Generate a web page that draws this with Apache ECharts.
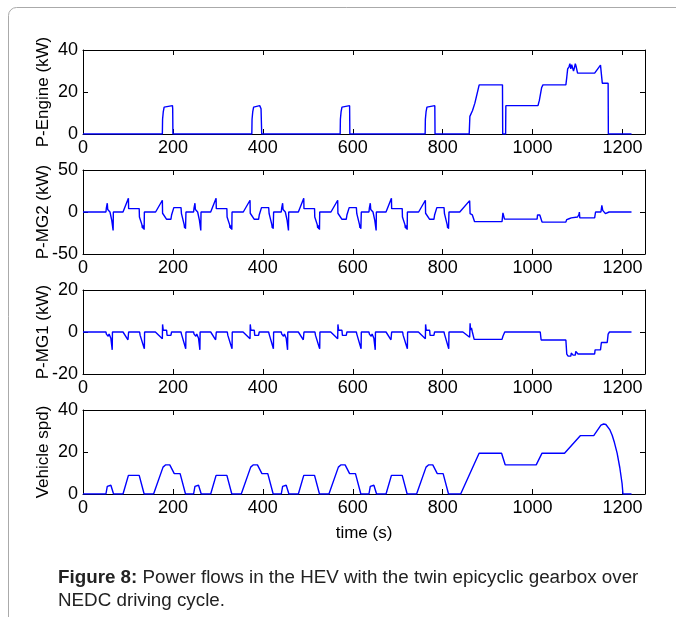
<!DOCTYPE html>
<html>
<head>
<meta charset="utf-8">
<script src="https://cdn.jsdelivr.net/npm/echarts@6/dist/echarts.min.js"></script>
<style>
html,body{margin:0;padding:0;background:#fff;}
#chart{width:676px;height:617px;}
</style>
</head>
<body>
<div id="chart"></div>
<script>
// ---- data: [time (s), value] ----
var xTicks = [0, 200, 400, 600, 800, 1000, 1200];
var panelNames = ['P-Engine (kW)', 'P-MG2 (kW)', 'P-MG1 (kW)', 'Vehicle spd)'];
var yRanges = [[0, 40, 20], [-50, 50, 50], [-20, 20, 20], [0, 40, 20]];

var engineData = [
  [0,0],[176.5,0],[177,7],[178.5,10.5],[180.5,12.8],[183.5,13.5],[199,13.5],[199.5,12],[200,0],
  [375.5,0],[376,7],[377.5,10.5],[379.5,12.8],[382.5,13.5],[393,13.5],[396,12],[397,12],[397.5,0],
  [572,0],[572.5,7],[574,10.5],[576,12.8],[579,13.5],[593,13.5],[593.5,0],
  [761,0],[761.5,7],[763,10.5],[765,12.8],[768,13.5],[782.5,13.5],[783,0],
  [859,0],[860.5,8.4],[866.4,11.2],[871.6,14.7],[881.2,23.4],[933,23.4],[933.5,0],[940,0],[940.5,13.5],
  [1012,13.5],[1015,16],[1020,22],[1023,23.4],[1074,23.4],[1076,27],[1078,31],[1081,32],[1083,33.5],
  [1085,31],[1087,33],[1089,33.5],[1091,30],[1093,31.5],[1095,33.5],[1097,32],[1100,29],[1138,29],
  [1151,32.8],[1152,32.8],[1155,24.2],[1168,24.2],[1168.5,0],[1220,0]
];

var mg2Data = [
  [0,0],
  [51,0],[52,5],[54,10.5],[55,3],[58,2],[60,0],[63,0],[64,-10],[67,-22],[67.5,0],
  [89,0],[101,16.5],[101.5,4],[125,4],[125.5,-6],[131,-15],[132,-19],[133,-16],[134,-20],[135,-17],[136,-21],[136.5,0],
  [161.5,0],[176.5,14],[177,-1.5],[186,-8.7],[195.5,-8.7],[197,-3.6],[200.5,-2],[202,5.2],[218,5.2],[219,-2],[225,-15],[226,-19],[227,-16],[228,-20],[229,0],
  [246,0],[247,5],[249,10.5],[250,3],[253,2],[255,0],[258,0],[259,-10],[262,-22],[262.5,0],
  [284,0],[296,16.5],[296.5,4],[320,4],[320.5,-6],[326,-15],[327,-19],[328,-16],[329,-20],[330,-17],[331,-21],[331.5,0],
  [356.5,0],[371.5,14],[372,-1.5],[381,-8.7],[390.5,-8.7],[392,-3.6],[395.5,-2],[397,5.2],[413,5.2],[414,-2],[420,-15],[421,-19],[422,-16],[423,-20],[424,0],
  [441,0],[442,5],[444,10.5],[445,3],[448,2],[450,0],[453,0],[454,-10],[457,-22],[457.5,0],
  [479,0],[491,16.5],[491.5,4],[515,4],[515.5,-6],[521,-15],[522,-19],[523,-16],[524,-20],[525,-17],[526,-21],[526.5,0],
  [551.5,0],[566.5,14],[567,-1.5],[576,-8.7],[585.5,-8.7],[587,-3.6],[590.5,-2],[592,5.2],[608,5.2],[609,-2],[615,-15],[616,-19],[617,-16],[618,-20],[619,0],
  [636,0],[637,5],[639,10.5],[640,3],[643,2],[645,0],[648,0],[649,-10],[652,-22],[652.5,0],
  [674,0],[686,16.5],[686.5,4],[710,4],[710.5,-6],[716,-15],[717,-19],[718,-16],[719,-20],[720,-17],[721,-21],[721.5,0],
  [746.5,0],[761.5,14],[762,-1.5],[771,-8.7],[780.5,-8.7],[782,-3.6],[785.5,-2],[787,5.2],[803,5.2],[804,-2],[810,-15],[811,-19],[812,-16],[813,-20],[814,0],
  [838,0],[860,13.5],[861,-2],[862,-3.5],[866,-3.5],[868,-5],[871,-11.5],[932,-11.5],[934,-1],[936,0.5],[937.5,-8.5],
  [1010,-8.5],[1011,-3.5],[1016,-3.5],[1021,-12],[1074,-12],[1076,-9],[1081,-8],[1086,-7],[1100,-6],[1103,-3],[1104,0],[1105,-7],
  [1138,-7],[1140,0],[1152,0],[1154,8],[1156,2],[1158,0],[1162,-2],[1166,-4],[1170,0],[1220,0]
];

var mg1Data = [
  [0,0],
  [51,0],[52,-1],[55,-1.5],[56,-2],[58,-1],[61,-1.5],[62,-3],[65,-8.5],[65.5,0],
  [89,0],[100,-3.7],[101.5,0],[126,0],[127,-1.5],[135,-7],[136.5,-8],[137,0],
  [161,0],[176.5,-3.2],[177,3.6],[178.5,0.8],[186,0.8],[187,-1.6],[195.5,-1.6],[197,0],[218,0],[219,-1],[228.5,-8],[229,0],
  [246,0],[247,-1],[250,-1.5],[251,-2],[253,-1],[256,-1.5],[257,-3],[260,-8.5],[260.5,0],
  [284,0],[295,-3.7],[296.5,0],[321,0],[322,-1.5],[330,-7],[331.5,-8],[332,0],
  [356,0],[371.5,-3.2],[372,3.6],[373.5,0.8],[381,0.8],[382,-1.6],[390.5,-1.6],[392,0],[413,0],[414,-1],[423.5,-8],[424,0],
  [441,0],[442,-1],[445,-1.5],[446,-2],[448,-1],[451,-1.5],[452,-3],[455,-8.5],[455.5,0],
  [479,0],[490,-3.7],[491.5,0],[516,0],[517,-1.5],[525,-7],[526.5,-8],[527,0],
  [551,0],[566.5,-3.2],[567,3.6],[568.5,0.8],[576,0.8],[577,-1.6],[585.5,-1.6],[587,0],[608,0],[609,-1],[618.5,-8],[619,0],
  [636,0],[637,-1],[640,-1.5],[641,-2],[643,-1],[646,-1.5],[647,-3],[650,-8.5],[650.5,0],
  [674,0],[685,-3.7],[686.5,0],[711,0],[712,-1.5],[720,-7],[721.5,-8],[722,0],
  [746,0],[761.5,-3.2],[762,3.6],[763.5,0.8],[771,0.8],[772,-1.6],[780.5,-1.6],[782,0],[803,0],[804,-1],[813.5,-8],[814,0],
  [845,0],[860,-2.5],[861,4.2],[862,1],[864,2],[866,0],[868,0],[870,-3.5],[932,-3.5],[934,-2],[938,0],
  [1017,0],[1019,-3.8],[1074,-3.8],[1076,-10.5],[1079,-11.5],[1085,-11.5],[1086,-10],[1089,-10],[1090,-11],[1095,-11],
  [1096,-9.2],[1100,-9.2],[1101,-10.5],[1138,-10.5],[1139,-8.5],[1151,-8.5],[1153,-5],[1166,-5],[1168,-1],[1171,0],[1220,0]
];

var speedData = [
  [0,0],[51,0],[54,3.6],[56,4.17],[62,4.17],[64,3.6],[68,0],[89,0],[101,8.89],[125,8.89],[136,0],
  [157,0],[178,12.8],[181,13.6],[184,13.89],[193,13.89],[196,13.3],[203,9.72],[216,9.72],[228,0],
  [246,0],[249,3.6],[251,4.17],[257,4.17],[259,3.6],[263,0],[284,0],[296,8.89],[320,8.89],[331,0],
  [352,0],[373,12.8],[376,13.6],[379,13.89],[388,13.89],[391,13.3],[398,9.72],[411,9.72],[423,0],
  [441,0],[444,3.6],[446,4.17],[452,4.17],[454,3.6],[458,0],[479,0],[491,8.89],[515,8.89],[526,0],
  [547,0],[568,12.8],[571,13.6],[574,13.89],[583,13.89],[586,13.3],[593,9.72],[606,9.72],[618,0],
  [636,0],[639,3.6],[641,4.17],[647,4.17],[649,3.6],[653,0],[674,0],[686,8.89],[710,8.89],[721,0],
  [742,0],[763,12.8],[766,13.6],[769,13.89],[778,13.89],[781,13.3],[788,9.72],[801,9.72],[813,0],
  [840,0],[881,19.44],[931,19.44],[939,13.89],[1008,13.89],[1021,19.44],[1071,19.44],[1106,27.78],[1136,27.78],
  [1152,32.8],[1158,33.33],[1163,33.1],[1167,32.2],[1172,30.5],[1177,28],[1182,24.5],[1188,19.5],[1194,12.5],[1199,5],[1201,0],[1220,0]
];

var captionBold = 'Figure 8:';
var captionLine1 = ' Power flows in the HEV with the twin epicyclic gearbox over';
var captionLine2 = 'NEDC driving cycle.';

// ---- chart ----
var FONT = '"Liberation Sans", Arial, Helvetica, sans-serif';
var seriesData = [engineData, mg2Data, mg1Data, speedData];
var gridTops = [50, 170, 290, 410];
var GL = 83, GW = 562, GH = 84;
var XMAX = 1250;

var grids = [], xAxes = [], yAxes = [], series = [];
for (var i = 0; i < 4; i++) {
  grids.push({left: GL, top: gridTops[i], width: GW, height: GH, containLabel: false});
  var base = {
    type: 'value', gridIndex: i, min: xTicks[0], max: XMAX, interval: xTicks[1] - xTicks[0],
    axisLine: {show: true, onZero: false, lineStyle: {color: '#000', width: 1}},
    axisTick: {show: true, inside: true, length: 5, lineStyle: {color: '#000'}},
    splitLine: {show: false}
  };
  xAxes.push(Object.assign({}, base, {
    position: 'bottom',
    axisLabel: {show: true, fontSize: 18, color: '#000', fontFamily: FONT, margin: 5, showMaxLabel: false,
      formatter: function (v) { return xTicks.indexOf(v) >= 0 ? String(v) : ''; }},
    name: i === 3 ? 'time (s)' : '', nameLocation: 'middle', nameGap: 31, nameMoveOverlap: false,
    nameTextStyle: {fontSize: 17, color: '#000', fontFamily: FONT}
  }));
  xAxes.push(Object.assign({}, base, {position: 'top', axisLabel: {show: false}}));
  var r = yRanges[i];
  var ybase = {
    type: 'value', gridIndex: i, min: r[0], max: r[1], interval: r[2],
    axisLine: {show: true, onZero: false, lineStyle: {color: '#000', width: 1}},
    axisTick: {show: true, inside: true, length: 5, lineStyle: {color: '#000'}},
    splitLine: {show: false}
  };
  yAxes.push(Object.assign({}, ybase, {
    position: 'left',
    axisLabel: {show: true, fontSize: 18, color: '#000', fontFamily: FONT, margin: 5},
    name: panelNames[i], nameLocation: 'middle', nameGap: 31, nameMoveOverlap: false,
    nameTextStyle: {fontSize: 17, color: '#000', fontFamily: FONT}
  }));
  yAxes.push(Object.assign({}, ybase, {position: 'right', axisLabel: {show: false}}));
  series.push({
    type: 'line', xAxisIndex: 2 * i, yAxisIndex: 2 * i, data: seriesData[i],
    showSymbol: false, symbol: 'none', smooth: false,
    lineStyle: {color: '#0000ff', width: 1.4}, itemStyle: {color: '#0000ff'},
    animation: false, silent: true
  });
}

var chart = echarts.init(document.getElementById('chart'), null, {renderer: 'canvas'});
chart.setOption({
  backgroundColor: '#fff',
  animation: false,
  grid: grids, xAxis: xAxes, yAxis: yAxes, series: series,
  graphic: [
    {type: 'rect', shape: {x: 8.5, y: 7.5, width: 720, height: 700, r: [8, 0, 0, 0]},
     style: {fill: 'none', stroke: '#aaaaaa', lineWidth: 1}, silent: true},
    {type: 'text', left: 58, top: 568,
     style: {text: '{b|' + captionBold + '}' + captionLine1, fontSize: 18.8, fontFamily: FONT, fill: '#222',
       rich: {b: {fontWeight: 'bold', fontSize: 18.8, fontFamily: FONT, fill: '#222'}}}},
    {type: 'text', left: 58, top: 591,
     style: {text: captionLine2, fontSize: 18.8, fontFamily: FONT, fill: '#222'}}
  ]
});
</script>
</body>
</html>
